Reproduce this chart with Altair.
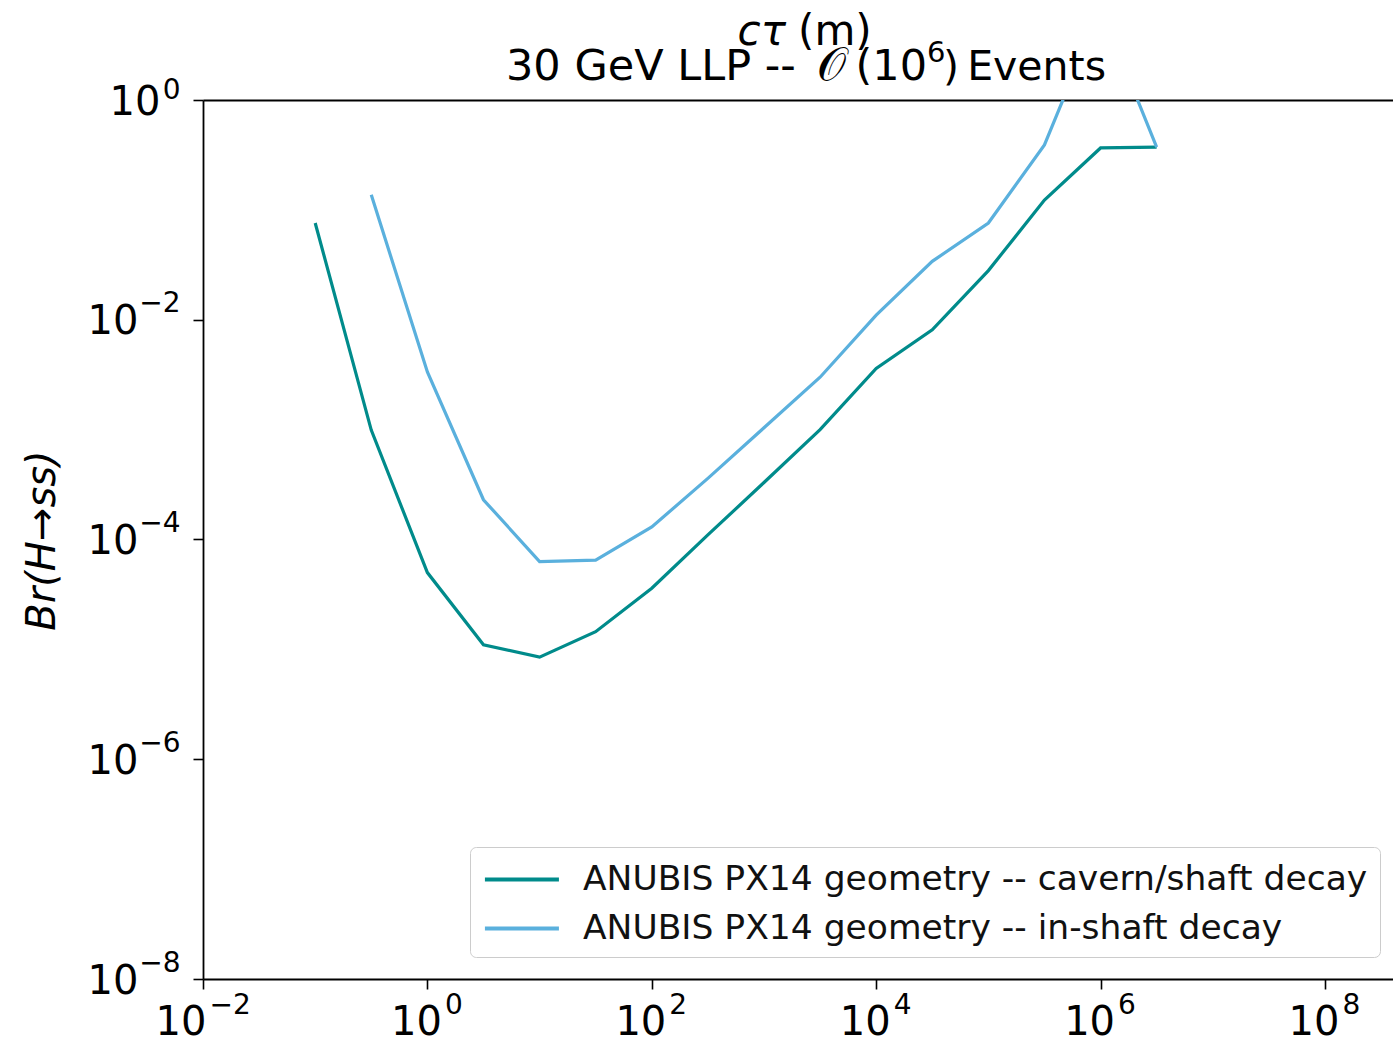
import altair as alt
import pandas as pd

# Lifetime grid (m) and branching-ratio sensitivity for each geometry
ct_cavern = [0.1, 0.316, 1, 3.16, 10, 31.6, 100, 316, 1000, 3162, 1e4, 3.16e4, 1e5, 3.16e5, 1e6, 3.16e6]
br_cavern = [7.6e-2, 9.9e-4, 5.0e-5, 1.1e-5, 8.5e-6, 1.45e-5, 3.6e-5, 1.1e-4, 3.3e-4,
             1.0e-3, 3.6e-3, 8.1e-3, 2.8e-2, 0.123, 0.366, 0.373]

ct_shaft = [0.316, 1, 3.16, 10, 31.6, 100, 316, 1000, 3162, 1e4, 3.16e4, 1e5, 3.16e5, 1e6, 3.16e6]
br_shaft = [0.137, 3.35e-3, 2.3e-4, 6.3e-5, 6.5e-5, 1.3e-4, 3.6e-4, 1.04e-3, 3.0e-3,
            1.1e-2, 3.4e-2, 7.6e-2, 0.39, 6.8, 0.373]

series_names = [
    "ANUBIS PX14 geometry -- cavern/shaft decay",
    "ANUBIS PX14 geometry -- in-shaft decay",
]
series_colors = ["#008b8b", "#5ab0dd"]

x_ticks = [1e-2, 1, 1e2, 1e4, 1e6, 1e8]
y_ticks = [1e-8, 1e-6, 1e-4, 1e-2, 1]

title_parts = ["30 GeV LLP --", "\U0001D4AA", "(10", "6", ")\u2009Events"]

df = pd.concat([
    pd.DataFrame({"ct": ct_cavern, "br": br_cavern, "series": series_names[0], "order": range(len(ct_cavern))}),
    pd.DataFrame({"ct": ct_shaft, "br": br_shaft, "series": series_names[1], "order": range(len(ct_shaft))}),
])

W, H = 1190, 879
FONT = "DejaVu Sans"

# tick labels are drawn as a base "10" plus a smaller raised exponent
base_label = "'10'"
exp_label = "replace(format(round(log(datum.value)/LN10), 'd'), '-', '\u2212')"

x_scale = alt.Scale(type="log", domain=[1e-2, 4.04e8], nice=False)
y_scale = alt.Scale(type="log", domain=[1e-8, 1], nice=False)

common = dict(grid=False, labelFont=FONT, labelColor="black", labelFlush=False,
              labelOverlap=False, labelBound=False)

lines = alt.Chart(df).mark_line(clip=True, strokeWidth=3.2).encode(
    x=alt.X("ct:Q", scale=x_scale,
            axis=alt.Axis(values=x_ticks, labelExpr=base_label, title=None,
                          labelFontSize=40, labelAlign="right", labelBaseline="top",
                          labelOffset={"condition": {"test": "datum.value < 1", "value": 3}, "value": 14},
                          labelPadding=13,
                          tickSize=10, tickWidth=1.6, tickColor="black",
                          domainColor="black", domainWidth=1.8, **common)),
    y=alt.Y("br:Q", scale=y_scale,
            axis=alt.Axis(values=y_ticks, labelExpr=base_label,
                          title="Br(H\u2192ss)", titleFont=FONT, titleFontSize=40,
                          titleFontStyle="italic", titleFontWeight="normal", titleColor="black",
                          titleX=-141, titleY=440, titleBaseline="bottom", titleAngle=-90,
                          labelFontSize=40, labelAlign="right", labelBaseline="middle",
                          labelOffset=2,
                          labelPadding={"condition": {"test": "datum.value == 1", "value": 33}, "value": 55},
                          tickSize=10, tickWidth=1.6, tickColor="black",
                          domainColor="black", domainWidth=1.8, **common)),
    color=alt.Color("series:N",
                    scale=alt.Scale(domain=series_names, range=series_colors),
                    legend=alt.Legend(title=None, orient="none", legendX=267, legendY=747,
                                      symbolType="M-0.95,0L3.05,0", symbolSize=1369,
                                      symbolStrokeWidth=4, labelOffset=60,
                                      labelFont=FONT, labelFontSize=34.5, labelColor="#111",
                                      labelLimit=1000, padding=12, rowPadding=12,
                                      strokeColor="#cccccc", fillColor="white",
                                      cornerRadius=6)),
    order="order:Q",
)

# exponent labels on both axes
exponents = alt.Chart(df).mark_line(opacity=0).encode(
    x=alt.X("ct:Q", scale=x_scale,
            axis=alt.Axis(orient="bottom", values=x_ticks, labelExpr=exp_label, title=None,
                          domain=False, ticks=False, labelFontSize=28,
                          labelAlign="left", labelBaseline="top", labelPadding=12,
                          labelOffset={"condition": {"test": "datum.value < 1", "value": 6}, "value": 17},
                          **common)),
    y=alt.Y("br:Q", scale=y_scale,
            axis=alt.Axis(orient="left", values=y_ticks, labelExpr=exp_label, title=None,
                          domain=False, ticks=False, labelFontSize=28,
                          labelAlign="right", labelBaseline="alphabetic", labelPadding=23,
                          labelOffset={"condition": {"test": "datum.value == 1", "value": -2}, "value": -8},
                          **common)),
    detail="series:N",
)

# top spine
top_axis = alt.Chart(df).mark_line(opacity=0).encode(
    x=alt.X("ct:Q", scale=x_scale,
            axis=alt.Axis(orient="top", labels=False, ticks=False, title=None, grid=False,
                          domainColor="black", domainWidth=1.8)),
    y=alt.Y("br:Q", scale=y_scale, axis=None),
    detail="series:N",
)

def label_text(text, x, y, size=43, align="left", style="normal"):
    return alt.Chart(pd.DataFrame({"t": [text]})).mark_text(
        font=FONT, fontSize=size, fontStyle=style, align=align, baseline="alphabetic", color="black"
    ).encode(x=alt.value(x), y=alt.value(y), text="t:N")

annotations = [
    label_text("c\u03c4", 583, -55, size=42, align="right", style="italic"),
    label_text("(m)", 595, -55, size=42),
    label_text(title_parts[0], 303, -20),
    label_text(title_parts[1], 628, -20, size=46, align="center"),
    label_text(title_parts[2], 724, -20, align="right"),
    label_text(title_parts[3], 724, -38, size=29),
    label_text(title_parts[4], 740, -20, size=41),
]

chart = alt.layer(lines, exponents, top_axis, *annotations).resolve_axis(
    x="independent", y="independent"
).properties(
    width=W, height=H,
    autosize=alt.AutoSizeParams(type="none"),
    padding={"left": 203, "top": 100, "right": 0, "bottom": 61},
).configure_view(stroke=None).configure(background="white")

chart.save("out.html", embed_options={"renderer": "svg", "actions": False})
